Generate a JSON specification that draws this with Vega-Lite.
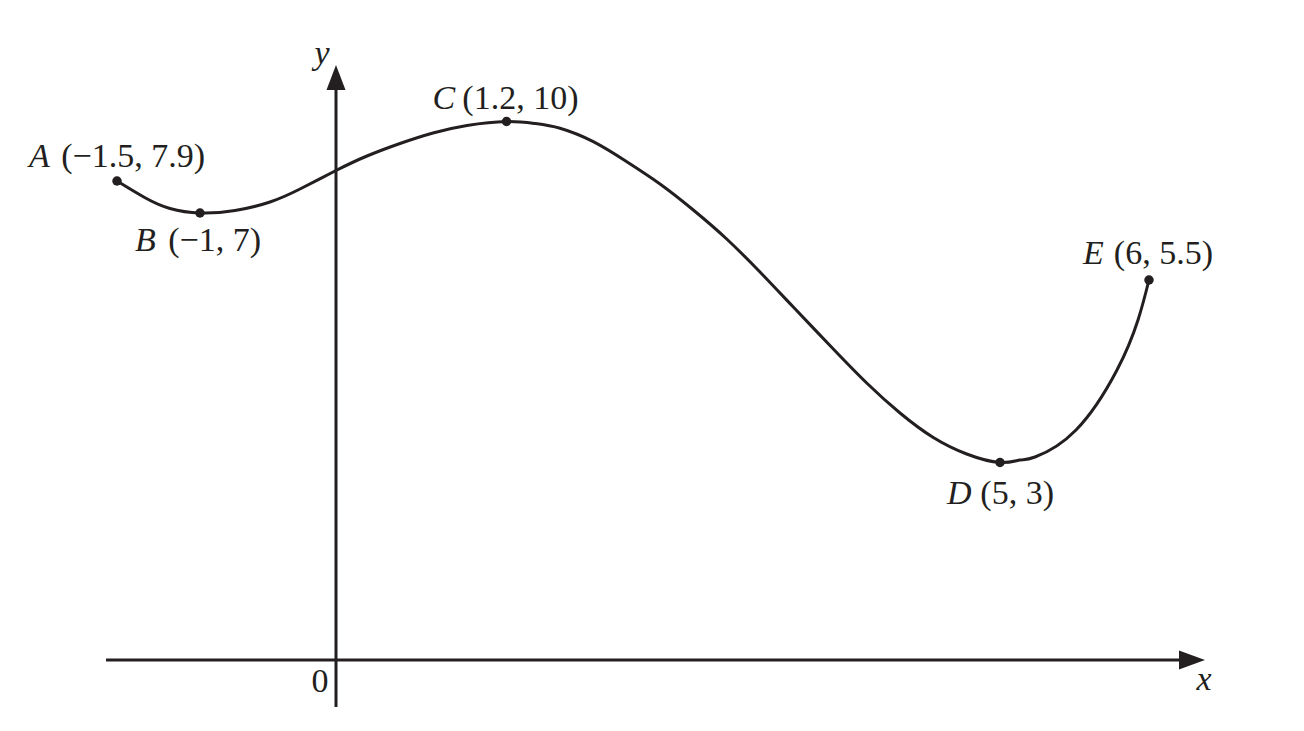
{
  "$schema": "https://vega.github.io/schema/vega-lite/v6.json",
  "width": 1304,
  "height": 731,
  "autosize": {"type": "fit", "contains": "padding"},
  "padding": 0,
  "background": "white",
  "config": {
    "view": {"stroke": null},
    "text": {"font": "Liberation Serif", "fontSize": 34, "color": "#231f20", "baseline": "alphabetic"}
  },
  "datasets": {
    "curve": [
      {"x": -1.6103, "y": 8.8868}, {"x": -1.4007, "y": 8.5714}, {"x": -1.2206, "y": 8.3766},
      {"x": -1.0, "y": 8.2931}, {"x": -0.7426, "y": 8.3395}, {"x": -0.4853, "y": 8.4972},
      {"x": -0.2647, "y": 8.7384}, {"x": 0.0, "y": 9.0816}, {"x": 0.2279, "y": 9.3506},
      {"x": 0.4706, "y": 9.5826}, {"x": 0.7132, "y": 9.7774}, {"x": 0.9632, "y": 9.9165},
      {"x": 1.2537, "y": 9.9907}, {"x": 1.4632, "y": 9.9536}, {"x": 1.6471, "y": 9.8646},
      {"x": 1.8919, "y": 9.6160}, {"x": 2.1375, "y": 9.2449}, {"x": 2.3824, "y": 8.8312},
      {"x": 2.6272, "y": 8.3488}, {"x": 2.8728, "y": 7.8108}, {"x": 3.1176, "y": 7.1985},
      {"x": 3.3625, "y": 6.5492}, {"x": 3.6566, "y": 5.7699}, {"x": 3.9022, "y": 5.1391},
      {"x": 4.1471, "y": 4.5826}, {"x": 4.3919, "y": 4.1280}, {"x": 4.6375, "y": 3.8219},
      {"x": 4.8824, "y": 3.6642}, {"x": 5.0294, "y": 3.7106}, {"x": 5.1397, "y": 3.7662},
      {"x": 5.4412, "y": 4.2672}, {"x": 5.7426, "y": 5.3803}, {"x": 5.8971, "y": 6.3080},
      {"x": 5.9779, "y": 7.0501}
    ],
    "points": [
      {"name": "A", "coords": "(−1.5, 7.9)", "x": -1.6103, "y": 8.8868},
      {"name": "B", "coords": "(−1, 7)", "x": -1.0, "y": 8.2931},
      {"name": "C", "coords": "(1.2, 10)", "x": 1.2537, "y": 9.9907},
      {"name": "D", "coords": "(5, 3)", "x": 4.8824, "y": 3.6642},
      {"name": "E", "coords": "(6, 5.5)", "x": 5.9779, "y": 7.0501}
    ],
    "axes": [
      {"axis": "x", "x": -1.691, "x2": 6.279, "y": 0, "y2": 0},
      {"axis": "y", "x": 0, "x2": 0, "y": -0.872, "y2": 10.761}
    ],
    "arrows": [
      {"axis": "x", "label": "x", "x": 6.294, "y": 0},
      {"axis": "y", "label": "y", "x": 0, "y": 10.807}
    ],
    "origin": [{"label": "0", "x": 0, "y": 0}]
  },
  "encoding": {
    "x": {"field": "x", "type": "quantitative", "scale": {"domain": [-2.470588, 7.117647], "nice": false, "zero": false}, "axis": null},
    "y": {"field": "y", "type": "quantitative", "scale": {"domain": [-1.31725, 12.2449], "nice": false, "zero": false}, "axis": null}
  },
  "layer": [
    {
      "data": {"name": "axes"},
      "mark": {"type": "rule", "color": "#231f20", "strokeWidth": 3},
      "encoding": {"x2": {"field": "x2"}, "y2": {"field": "y2"}}
    },
    {
      "data": {"name": "arrows"},
      "transform": [{"filter": "datum.axis == 'x'"}],
      "mark": {"type": "point", "shape": "M-1,-0.73L1,0L-1,0.73Z", "filled": true, "color": "#231f20", "size": 676, "opacity": 1}
    },
    {
      "data": {"name": "arrows"},
      "transform": [{"filter": "datum.axis == 'y'"}],
      "mark": {"type": "point", "shape": "M-0.76,1L0,-1L0.76,1Z", "filled": true, "color": "#231f20", "size": 625, "opacity": 1}
    },
    {
      "data": {"name": "arrows"},
      "transform": [{"filter": "datum.axis == 'x'"}],
      "mark": {"type": "text", "fontStyle": "italic", "align": "center", "dx": 12, "dy": 30},
      "encoding": {"text": {"field": "label"}}
    },
    {
      "data": {"name": "arrows"},
      "transform": [{"filter": "datum.axis == 'y'"}],
      "mark": {"type": "text", "fontStyle": "italic", "align": "center", "dx": -14, "dy": -14},
      "encoding": {"text": {"field": "label"}}
    },
    {
      "data": {"name": "origin"},
      "mark": {"type": "text", "align": "center", "dx": -16, "dy": 32},
      "encoding": {"text": {"field": "label"}}
    },
    {
      "data": {"name": "curve"},
      "mark": {"type": "line", "interpolate": "natural", "color": "#231f20", "strokeWidth": 3}
    },
    {
      "data": {"name": "points"},
      "mark": {"type": "circle", "color": "#231f20", "size": 90, "opacity": 1}
    },
    {"data": {"name": "points"}, "transform": [{"filter": "datum.name == 'A'"}], "mark": {"type": "text", "fontStyle": "italic", "align": "left", "dx": -88, "dy": -14}, "encoding": {"text": {"field": "name"}}},
    {"data": {"name": "points"}, "transform": [{"filter": "datum.name == 'A'"}], "mark": {"type": "text", "align": "right", "dx": 88, "dy": -14}, "encoding": {"text": {"field": "coords"}}},
    {"data": {"name": "points"}, "transform": [{"filter": "datum.name == 'B'"}], "mark": {"type": "text", "fontStyle": "italic", "align": "left", "dx": -65, "dy": 38}, "encoding": {"text": {"field": "name"}}},
    {"data": {"name": "points"}, "transform": [{"filter": "datum.name == 'B'"}], "mark": {"type": "text", "align": "right", "dx": 61, "dy": 38}, "encoding": {"text": {"field": "coords"}}},
    {"data": {"name": "points"}, "transform": [{"filter": "datum.name == 'C'"}], "mark": {"type": "text", "fontStyle": "italic", "align": "left", "dx": -74, "dy": -13}, "encoding": {"text": {"field": "name"}}},
    {"data": {"name": "points"}, "transform": [{"filter": "datum.name == 'C'"}], "mark": {"type": "text", "align": "right", "dx": 72, "dy": -13}, "encoding": {"text": {"field": "coords"}}},
    {"data": {"name": "points"}, "transform": [{"filter": "datum.name == 'D'"}], "mark": {"type": "text", "fontStyle": "italic", "align": "left", "dx": -53, "dy": 42}, "encoding": {"text": {"field": "name"}}},
    {"data": {"name": "points"}, "transform": [{"filter": "datum.name == 'D'"}], "mark": {"type": "text", "align": "right", "dx": 54, "dy": 42}, "encoding": {"text": {"field": "coords"}}},
    {"data": {"name": "points"}, "transform": [{"filter": "datum.name == 'E'"}], "mark": {"type": "text", "fontStyle": "italic", "align": "left", "dx": -66, "dy": -16}, "encoding": {"text": {"field": "name"}}},
    {"data": {"name": "points"}, "transform": [{"filter": "datum.name == 'E'"}], "mark": {"type": "text", "align": "right", "dx": 64, "dy": -16}, "encoding": {"text": {"field": "coords"}}}
  ]
}
